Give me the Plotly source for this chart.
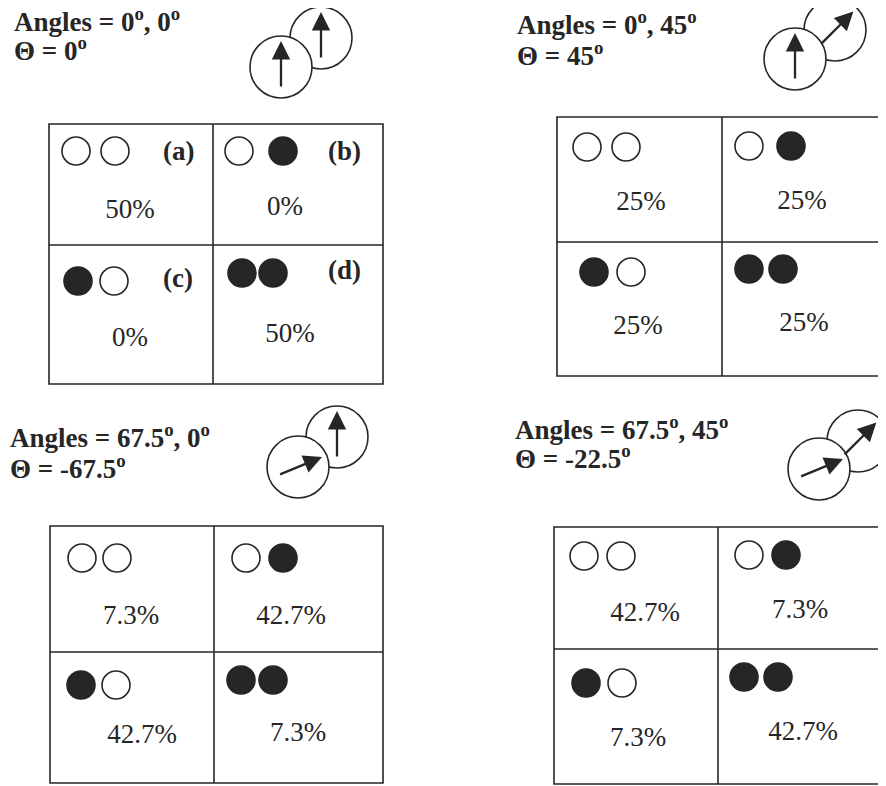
import math
import plotly.graph_objects as go

# ---------------- data ----------------
angle_a = [0, 0, 67.5, 67.5]          # polarizer angle, first (lower) spin
angle_b = [0, 45, 0, 45]              # polarizer angle, second (upper) spin
angle_a_txt = ["0", "0", "67.5", "67.5"]
angle_b_txt = ["0", "45", "0", "45"]
theta_txt = ["0", "45", "-67.5", "-22.5"]
cell_states = [("open", "open"), ("open", "filled"), ("filled", "open"), ("filled", "filled")]
cell_letters = ["(a)", "(b)", "(c)", "(d)"]
pct_p1 = [50, 0, 0, 50]
pct_p2 = [25, 25, 25, 25]
pct_p3 = [7.3, 42.7, 42.7, 7.3]
pct_p4 = [42.7, 7.3, 7.3, 42.7]
percentages = [pct_p1, pct_p2, pct_p3, pct_p4]
show_letters = [True, False, False, False]

# ---------------- layout (pixel geometry, page coordinates) ----------------
PAGE_W, PAGE_H = 886, 786
OFF = 8                      # default body margin of the page
W, H = PAGE_W - OFF, PAGE_H - OFF
INK = "#262626"
SERIF = "Liberation Serif, Times New Roman, serif"

panels = [
    dict(box=(49, 124, 383, 384), mid=(213, 245), title=(12, 20, 49),
         lower=(281, 67), upper=(321, 38),
         circ=[((27, 27), (66, 27)), ((26, 27), (70, 27)), ((29, 36), (65, 36)), ((29, 28), (60, 28))],
         pct=[(81, 87), (72, 84), (81, 94), (77, 90)],
         lab=[(129, 27), (131, 27), (129, 33), (131, 25)]),
    dict(box=(557, 117, 884, 376), mid=(722, 242), title=(515, 23, 54),
         lower=(795, 59), upper=(835, 30),
         circ=[((30, 30), (69, 30)), ((27, 29), (69, 29)), ((37, 30), (74, 30)), ((27, 27), (61, 27))],
         pct=[(84, 86), (80, 85), (81, 85), (82, 82)], lab=None),
    dict(box=(50, 526, 383, 783), mid=(214, 652), title=(8, 436, 467),
         lower=(298, 467), upper=(337, 437),
         circ=[((32, 32), (67, 32)), ((32, 32), (69, 32)), ((31, 33), (66, 33)), ((27, 28), (59, 28))],
         pct=[(81, 91), (77, 91), (92, 84), (84, 82)], lab=None),
    dict(box=(554, 527, 886, 784), mid=(718, 649), title=(513, 428, 457),
         lower=(819, 469), upper=(858, 441),
         circ=[((30, 29), (67, 29)), ((31, 28), (68, 28)), ((32, 34), (68, 34)), ((26, 28), (60, 28))],
         pct=[(91, 87), (82, 84), (84, 90), (85, 84)], lab=None),
]
R_ICON = 31

fig = go.Figure()
shapes = []
annotations = []

for i, P in enumerate(panels):
    x0, y0, x1, y1 = P["box"]
    xm, ym = P["mid"]
    # grid box
    shapes.append(dict(type="rect", x0=x0, y0=y0, x1=x1, y1=y1, xref="x", yref="y",
                       line=dict(color=INK, width=1.6), fillcolor="rgba(0,0,0,0)"))
    shapes.append(dict(type="line", x0=xm, y0=y0, x1=xm, y1=y1, xref="x", yref="y",
                       line=dict(color=INK, width=1.6)))
    shapes.append(dict(type="line", x0=x0, y0=ym, x1=x1, y1=ym, xref="x", yref="y",
                       line=dict(color=INK, width=1.6)))

    # titles
    tx, ty1, ty2 = P["title"]
    annotations.append(dict(x=tx, y=ty1, xref="x", yref="y", xanchor="left", yanchor="middle",
                            showarrow=False,
                            text=f"<b>Angles = {angle_a_txt[i]}<sup>o</sup>, {angle_b_txt[i]}<sup>o</sup></b>",
                            font=dict(family=SERIF, size=27, color=INK)))
    annotations.append(dict(x=tx, y=ty2, xref="x", yref="y", xanchor="left", yanchor="middle",
                            showarrow=False,
                            text=f"<b>\u0398 = {theta_txt[i]}<sup>o</sup></b>",
                            font=dict(family=SERIF, size=27, color=INK)))

    # icon circles: upper first, lower on top
    for key in ("upper", "lower"):
        cx, cy = P[key]
        shapes.append(dict(type="circle", x0=cx - R_ICON, y0=cy - R_ICON, x1=cx + R_ICON, y1=cy + R_ICON,
                           xref="x", yref="y", fillcolor="white", line=dict(color=INK, width=1.6)))
    # arrows
    for key, ang in (("lower", angle_a[i]), ("upper", angle_b[i])):
        cx, cy = P[key]
        dx, dy = math.sin(math.radians(ang)), -math.cos(math.radians(ang))
        annotations.append(dict(x=cx + 26 * dx, y=cy + 26 * dy, ax=cx - 21 * dx, ay=cy - 21 * dy,
                                xref="x", yref="y", axref="x", ayref="y", text="",
                                showarrow=True, arrowhead=2, arrowsize=1.6, arrowwidth=2.3,
                                arrowcolor=INK))

    # cells
    cell_origin = [(x0, y0), (xm, y0), (x0, ym), (xm, ym)]
    cxs, cys, cols = [], [], []
    px, py, ptxt = [], [], []
    for k in range(4):
        ox, oy = cell_origin[k]
        for (dx, dy), st in zip(P["circ"][k], cell_states[k]):
            cxs.append(ox + dx)
            cys.append(oy + dy)
            cols.append(INK if st == "filled" else "white")
        px.append(ox + P["pct"][k][0])
        py.append(oy + P["pct"][k][1])
        ptxt.append(f"{percentages[i][k]:g}%")
        if show_letters[i]:
            lx, ly = P["lab"][k]
            annotations.append(dict(x=ox + lx, y=oy + ly, xref="x", yref="y", showarrow=False,
                                    xanchor="center", yanchor="middle", text=f"<b>{cell_letters[k]}</b>",
                                    font=dict(family=SERIF, size=27, color=INK)))
    fig.add_trace(go.Scatter(x=cxs, y=cys, mode="markers", hoverinfo="skip",
                             marker=dict(size=28, color=cols, line=dict(color=INK, width=1.6))))
    fig.add_trace(go.Scatter(x=px, y=py, mode="text", text=ptxt, textposition="middle center",
                             hoverinfo="skip",
                             textfont=dict(family=SERIF, size=27, color=INK)))

fig.update_layout(
    width=W, height=H, margin=dict(l=0, r=0, t=0, b=0),
    paper_bgcolor="white", plot_bgcolor="white", showlegend=False,
    xaxis=dict(range=[OFF, PAGE_W], visible=False, fixedrange=True),
    yaxis=dict(range=[PAGE_H, OFF], visible=False, fixedrange=True),
    shapes=shapes, annotations=annotations,
)
fig.write_html("out.html")
